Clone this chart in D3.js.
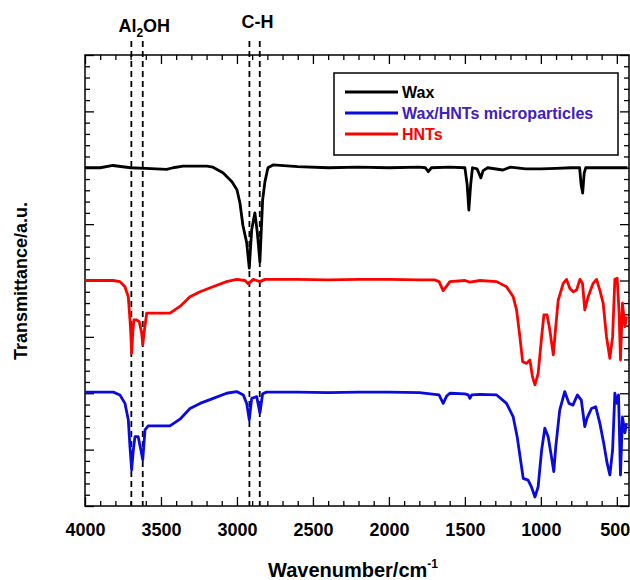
<!DOCTYPE html>
<html>
<head>
<meta charset="utf-8">
<script src="https://cdn.jsdelivr.net/npm/d3@7"></script>
<style>
  body { margin: 0; background: #fff; }
  svg text { font-family: Arial, "Liberation Sans", sans-serif; font-weight: bold; }
</style>
</head>
<body>
<svg class="chart"></svg>
<script>
// x tick labels (wavenumber, cm-1)
var xTicks = [4000, 3500, 3000, 2500, 2000, 1500, 1000, 500];

// peak marker positions
var alohLines = [3695, 3620];
var chLines = [2918, 2850];

var seriesNames = ["Wax", "Wax/HNTs microparticles", "HNTs"];

// Wax
var waxWavenumber = [4000, 3900, 3816, 3700, 3600, 3463, 3420, 3355, 3197, 3158, 3092, 3033, 3000, 2980, 2961, 2936, 2919, 2903, 2882, 2866, 2849, 2831, 2816, 2796, 2763, 2600, 2400, 2200, 2000, 1800, 1760, 1741, 1720, 1600, 1500, 1485, 1474, 1462, 1450, 1420, 1395, 1380, 1350, 1250, 1200, 1100, 1000, 900, 800, 745, 735, 725, 715, 705, 600, 500, 430];
var waxValue = [6.0, 6.0, 6.04, 6.0, 5.99, 5.97, 6.0, 6.03, 6.03, 6.01, 5.91, 5.75, 5.61, 5.37, 4.98, 4.67, 4.22, 4.90, 5.20, 4.85, 4.33, 5.43, 5.75, 6.0, 6.05, 6.02, 6.0, 6.01, 6.0, 6.01, 6.0, 5.93, 6.0, 6.01, 6.0, 5.7, 5.25, 5.7, 6.0, 5.98, 5.82, 5.95, 6.0, 5.96, 6.01, 5.98, 5.98, 5.99, 6.0, 6.0, 5.7, 5.55, 5.9, 6.0, 6.0, 6.0, 6.0];

// HNTs
var hntsWavenumber = [4000, 3814, 3770, 3737, 3715, 3704, 3699, 3693, 3685, 3678, 3660, 3643, 3627, 3620, 3610, 3594, 3520, 3441, 3375, 3309, 3243, 3158, 3068, 3002, 2947, 2926, 2893, 2849, 2816, 2600, 2400, 2200, 2000, 1800, 1700, 1670, 1643, 1620, 1599, 1500, 1467, 1400, 1291, 1226, 1182, 1160, 1138, 1120, 1094, 1072, 1055, 1039, 1018, 995, 980, 959, 941, 918, 908, 886, 853, 831, 809, 787, 765, 743, 726, 711, 689, 656, 634, 612, 590, 568, 546, 528, 513, 498, 485, 476, 463, 447, 436];
var hntsValue = [4.0, 4.0, 3.98, 3.89, 3.71, 3.30, 3.09, 2.71, 3.1, 3.30, 3.30, 3.27, 3.07, 2.86, 3.1, 3.42, 3.42, 3.42, 3.54, 3.71, 3.80, 3.89, 3.98, 4.02, 4.0, 3.94, 4.02, 3.98, 4.02, 4.02, 4.01, 4.02, 4.02, 4.01, 4.01, 3.98, 3.82, 3.9, 3.98, 4.0, 3.97, 4.0, 3.98, 3.89, 3.71, 3.48, 3.00, 2.56, 2.53, 2.59, 2.29, 2.15, 2.35, 3.00, 3.39, 3.39, 3.12, 2.68, 3.00, 3.65, 3.95, 4.02, 3.86, 3.80, 3.83, 4.02, 3.95, 3.48, 3.71, 3.95, 4.02, 3.83, 3.60, 3.00, 2.62, 3.00, 4.02, 4.04, 3.42, 2.59, 3.60, 3.18, 3.36];

// Wax/HNTs microparticles
var blendWavenumber = [4000, 3814, 3770, 3737, 3715, 3704, 3693, 3682, 3671, 3650, 3632, 3620, 3605, 3584, 3441, 3375, 3309, 3243, 3156, 3068, 3002, 2958, 2936, 2919, 2903, 2870, 2849, 2831, 2805, 2600, 2400, 2200, 2000, 1800, 1670, 1643, 1620, 1599, 1500, 1478, 1467, 1455, 1400, 1291, 1226, 1182, 1156, 1134, 1116, 1084, 1062, 1039, 1018, 995, 974, 952, 930, 915, 902, 876, 843, 815, 789, 760, 734, 711, 696, 667, 639, 612, 586, 564, 546, 528, 513, 498, 489, 476, 463, 447, 436];
var blendValue = [2.02, 2.02, 1.97, 1.82, 1.53, 1.05, 0.64, 0.99, 1.23, 1.23, 0.99, 0.82, 1.35, 1.42, 1.42, 1.54, 1.73, 1.82, 1.91, 2.00, 2.03, 1.97, 1.82, 1.53, 1.91, 1.94, 1.65, 1.99, 2.02, 2.02, 2.01, 2.02, 2.02, 2.01, 1.97, 1.82, 1.95, 2.00, 1.99, 1.97, 1.91, 1.97, 1.98, 1.97, 1.82, 1.58, 1.23, 0.82, 0.49, 0.46, 0.34, 0.16, 0.34, 0.99, 1.38, 1.23, 0.87, 0.61, 1.05, 1.70, 2.03, 1.82, 1.79, 1.97, 1.88, 1.41, 1.56, 1.73, 1.76, 1.47, 1.11, 0.76, 0.55, 0.99, 2.00, 1.82, 1.97, 0.55, 1.58, 1.30, 1.47];

function show() {

    'use strict';

    var width = 630, height = 580;
    var left = 85, right = 629, top = 55, bottom = 506;

    var svg = d3.select(".chart")
        .attr("width", width)
        .attr("height", height);

    var x = d3.scaleLinear().domain([4000, 420]).range([left, right]);
    var y = d3.scaleLinear().domain([0, 8]).range([bottom, top]);

    var minorX = d3.range(4000, 450, -100).filter(function(d) { return d % 500 !== 0; });
    var majorY = d3.range(0, 9, 1);
    var minorY = d3.range(0, 8.01, 0.2).filter(function(d) { return Math.abs(d - Math.round(d)) > 0.01; });

    function drawAxis(axis, tx, ty) {
        var g = svg.append("g")
            .attr("transform", "translate(" + tx + "," + ty + ")")
            .call(axis);
        g.select(".domain").remove();
        g.selectAll("line").attr("stroke", "#000").attr("stroke-width", 1.3);
        return g;
    }

    // bottom axis with labels
    var xb = drawAxis(d3.axisBottom(x).tickValues(xTicks).tickSize(-9).tickPadding(17).tickFormat(d3.format("d")), 0, bottom);
    xb.selectAll("text")
        .attr("font-size", 18)
        .attr("fill", "#000")
        .filter(function(d) { return d === 500; })
            .attr("text-anchor", "end")
            .attr("x", 13);
    drawAxis(d3.axisBottom(x).tickValues(minorX).tickSize(-5).tickFormat(""), 0, bottom);
    drawAxis(d3.axisTop(x).tickValues(xTicks).tickSize(-9).tickFormat(""), 0, top);
    drawAxis(d3.axisTop(x).tickValues(minorX).tickSize(-5).tickFormat(""), 0, top);
    drawAxis(d3.axisLeft(y).tickValues(majorY).tickSize(-9).tickFormat(""), left, 0);
    drawAxis(d3.axisLeft(y).tickValues(minorY).tickSize(-5).tickFormat(""), left, 0);
    drawAxis(d3.axisRight(y).tickValues(majorY).tickSize(-9).tickFormat(""), right, 0);
    drawAxis(d3.axisRight(y).tickValues(minorY).tickSize(-5).tickFormat(""), right, 0);

    svg.append("rect")
        .attr("x", left).attr("y", top)
        .attr("width", right - left).attr("height", bottom - top)
        .attr("fill", "none").attr("stroke", "#000").attr("stroke-width", 1.5);

    // dashed marker lines
    svg.selectAll(".marker")
        .data(alohLines.concat(chLines))
        .enter()
        .append("line")
            .attr("class", "marker")
            .attr("x1", function(d) { return x(d); })
            .attr("x2", function(d) { return x(d); })
            .attr("y1", 41)
            .attr("y2", bottom)
            .attr("stroke", "#000")
            .attr("stroke-width", 1.8)
            .attr("stroke-dasharray", "6,4");

    var alLabel = svg.append("text")
        .attr("x", x(3610))
        .attr("y", 32)
        .attr("text-anchor", "middle")
        .attr("font-size", 18);
    alLabel.append("tspan").text("Al");
    alLabel.append("tspan").attr("font-size", 12).attr("dy", 5).text("2");
    alLabel.append("tspan").attr("dy", -5).text("OH");

    svg.append("text")
        .attr("x", x(2865))
        .attr("y", 28)
        .attr("text-anchor", "middle")
        .attr("font-size", 18)
        .text("C-H");

    // spectra
    var line = d3.line()
        .x(function(d) { return x(d[0]); })
        .y(function(d) { return y(d[1]); });

    var series = [
        {name: seriesNames[0], color: "#000000", text: "#000000", data: d3.zip(waxWavenumber, waxValue)},
        {name: seriesNames[1], color: "#0a0ade", text: "#4020c0", data: d3.zip(blendWavenumber, blendValue)},
        {name: seriesNames[2], color: "#ff0000", text: "#ff0000", data: d3.zip(hntsWavenumber, hntsValue)}
    ];

    svg.selectAll(".spectrum")
        .data(series)
        .enter()
        .append("path")
            .attr("class", "spectrum")
            .attr("fill", "none")
            .attr("stroke", function(d) { return d.color; })
            .attr("stroke-width", 2.8)
            .attr("stroke-linejoin", "round")
            .attr("d", function(d) { return line(d.data); });

    // legend
    var legend = svg.append("g").attr("transform", "translate(334,73)");
    legend.append("rect")
        .attr("width", 284).attr("height", 82)
        .attr("fill", "#fff").attr("stroke", "#000").attr("stroke-width", 1.5);

    var items = legend.selectAll(".item")
        .data(series)
        .enter()
        .append("g")
            .attr("class", "item")
            .attr("transform", function(d, i) { return "translate(0," + (19 + i * 21) + ")"; });
    items.append("line")
        .attr("x1", 11).attr("x2", 64)
        .attr("stroke", function(d) { return d.color; })
        .attr("stroke-width", 2.8);
    items.append("text")
        .attr("x", 68)
        .attr("y", 6)
        .attr("font-size", 16)
        .attr("fill", function(d) { return d.text; })
        .text(function(d) { return d.name; });

    // axis titles
    var xTitle = svg.append("text")
        .attr("x", 268)
        .attr("y", 577)
        .attr("font-size", 20);
    xTitle.append("tspan").text("Wavenumber/cm");
    xTitle.append("tspan").attr("font-size", 12).attr("dy", -9).text("-1");

    svg.append("text")
        .attr("transform", "translate(27,281) rotate(-90)")
        .attr("text-anchor", "middle")
        .attr("font-size", 18)
        .text("Transmittance/a.u.");
}

show();
</script>
</body>
</html>
